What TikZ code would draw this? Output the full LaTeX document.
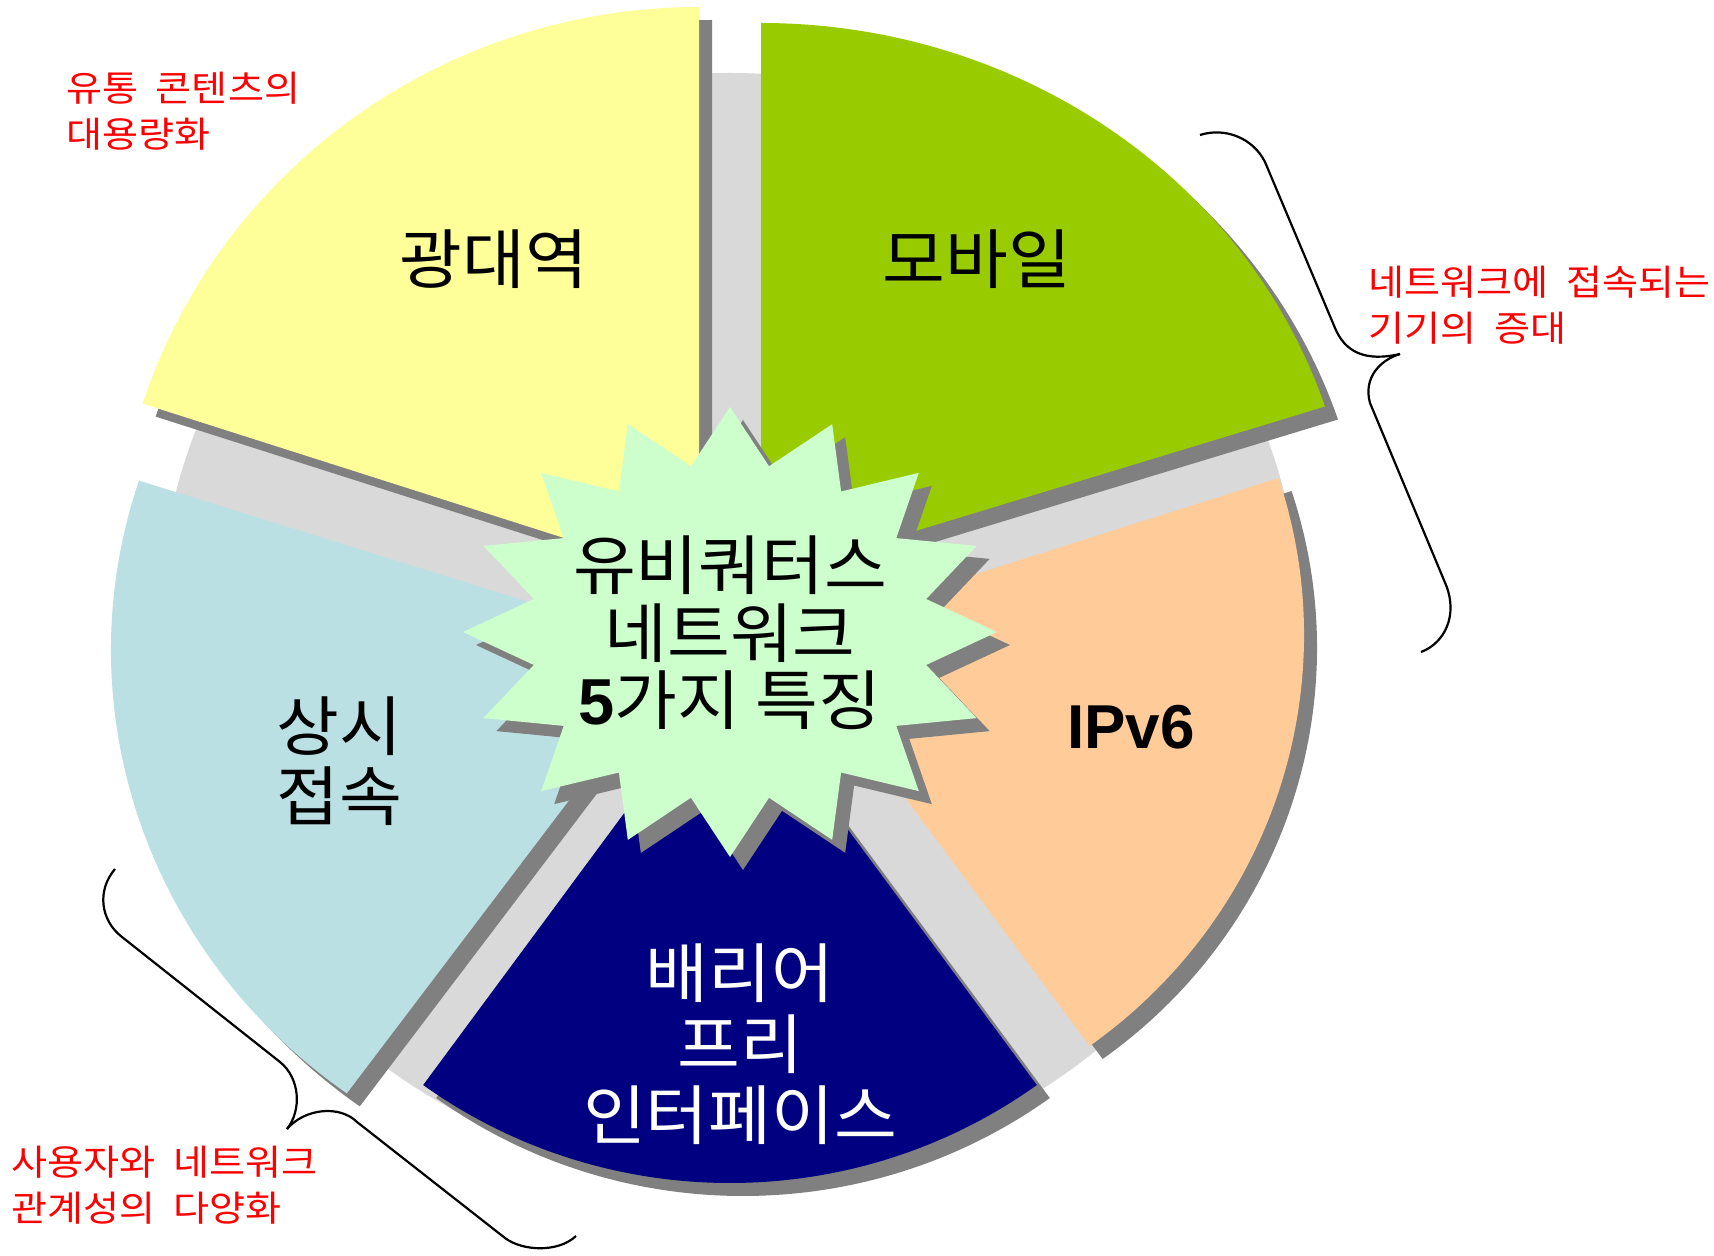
\documentclass[tikz,border=0pt]{standalone}
\usepackage{fontspec}
\newfontfamily\kr{Noto Sans CJK KR}[FakeStretch=1.05]
\newfontfamily\krn{Noto Sans CJK KR}[WordSpace=2, FakeStretch=1.1]
\newfontfamily\lsans{Liberation Sans}
\definecolor{cYellow}{HTML}{FFFF99}
\definecolor{cGreen}{HTML}{99CC00}
\definecolor{cPeach}{HTML}{FFCC99}
\definecolor{cNavy}{HTML}{000080}
\definecolor{cBlue}{HTML}{BBE0E3}
\definecolor{cDisc}{HTML}{D9D9D9}
\definecolor{cShadow}{HTML}{808080}
\definecolor{cStar}{HTML}{CCFFCC}
\begin{document}
\begin{tikzpicture}[x=0.5pt,y=0.5pt,
  shd/.style={fill=cShadow, shift={(13,-13)}},
  biglbl/.style={inner sep=0pt, align=center, font=\kr\fontsize{32.5}{35}\selectfont},
  note/.style={inner sep=0pt, align=left, anchor=west, text=red, font=\krn\fontsize{17.8}{23}\selectfont},
  brace/.style={draw=black, line width=1.1pt}]
\useasboundingbox (0,0) rectangle (1714,1255);
% grey disc
\fill[cDisc] (730,629) ellipse [x radius=571, y radius=553];
% yellow
\fill[shd] (699,674) -- ++(90:585 and 574) arc[start angle=90, end angle=162, x radius=585, y radius=574] -- cycle;
\fill[cYellow] (699,674) -- ++(90:585 and 574) arc[start angle=90, end angle=162, x radius=585, y radius=574] -- cycle;
% green
\fill[shd] (761,677) -- ++(18:593 and 555) arc[start angle=18, end angle=90, x radius=593, y radius=555] -- cycle;
\fill[cGreen] (761,677) -- ++(18:593 and 555) arc[start angle=18, end angle=90, x radius=593, y radius=555] -- cycle;
% peach
\fill[shd] (784,620) -- ++(-54:520 and 508) arc[start angle=-54, end angle=18, x radius=520, y radius=508] -- cycle;
\fill[cPeach] (784,620) -- ++(-54:520 and 508) arc[start angle=-54, end angle=18, x radius=520, y radius=508] -- cycle;
% navy
\fill[shd] (730,585) -- ++(-126:522 and 513) arc[start angle=-126, end angle=-54, x radius=522, y radius=513] -- cycle;
\fill[cNavy] (730,585) -- ++(-126:522 and 513) arc[start angle=-126, end angle=-54, x radius=522, y radius=513] -- cycle;
% light blue
\fill[shd] (683,605) -- ++(162:572 and 548) arc[start angle=162, end angle=234, x radius=572, y radius=548] -- cycle;
\fill[cBlue] (683,605) -- ++(162:572 and 548) arc[start angle=162, end angle=234, x radius=572, y radius=548] -- cycle;
% starburst
\fill[cShadow, shift={(743,610)}] (90:267 and 225) \foreach \k in {0,...,15} { -- ({90+22.5*\k+11.25}:200 and 169) -- ({90+22.5*(\k+1)}:267 and 225) } -- cycle;
\fill[cStar, shift={(730,623)}] (90:267 and 225) \foreach \k in {0,...,15} { -- ({90+22.5*\k+11.25}:200 and 169) -- ({90+22.5*(\k+1)}:267 and 225) } -- cycle;
% labels
\node[biglbl] (gwang) at (494,996) {광대역};
\node[biglbl] (mobile) at (977,996) {모바일};
\node[inner sep=0pt, font=\lsans\bfseries\fontsize{31}{35}\selectfont] (ipv6) at (1131,528) {IPv6};
\node[biglbl] (always) at (339,494) {상시\\접속};
\node[biglbl, text=white, font=\kr\fontsize{32.5}{35.5}\selectfont] (barrier) at (740,211) {배리어\\프리\\인터페이스};
\node[biglbl, font=\kr\fontsize{32.5}{33.75}\selectfont] (center) at (730,622) {유비쿼터스\\네트워크\\{\lsans\bfseries 5}가지 특징};
% notes
\node[note] (n1) at (66,1144) {유통 콘텐츠의\\대용량화};
\node[note] (n2) at (1368,950) {네트워크에 접속되는\\기기의 증대};
\node[note] (n3) at (11,70) {사용자와 네트워크\\관계성의 다양화};
% braces
\draw[brace] (1200,1120) .. controls (1225,1128) and (1253,1117) .. (1265,1093) -- (1335,927) .. controls (1345,903) and (1365,893) .. (1400,901);
\draw[brace] (1400,901) .. controls (1380,895) and (1363,877) .. (1370,852) -- (1446,670) .. controls (1458,640) and (1445,612) .. (1421,603);
\draw[brace] (115,386) .. controls (97,365) and (100,335) .. (122,318) -- (280,193) .. controls (300,177) and (302,145) .. (287,126);
\draw[brace] (287,126) .. controls (305,147) and (340,150) .. (357,133) -- (505,17) .. controls (522,4) and (558,2) .. (576,19);
\end{tikzpicture}
\end{document}
